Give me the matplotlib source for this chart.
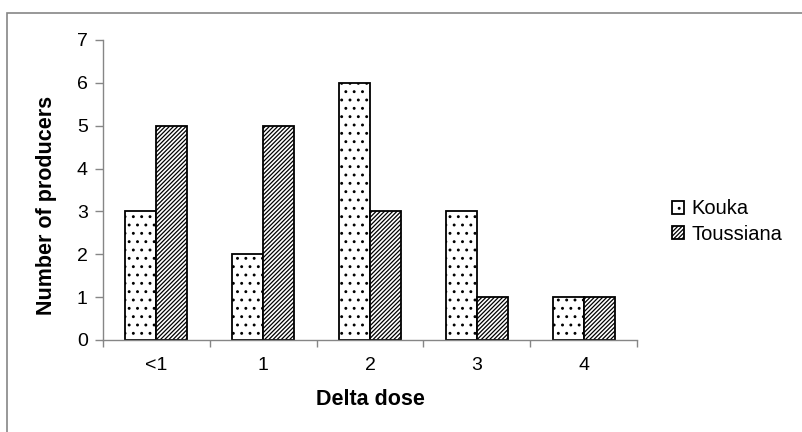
import matplotlib
matplotlib.use("Agg")
import matplotlib.pyplot as plt
from matplotlib.patches import Rectangle
import numpy as np

categories = ["<1", "1", "2", "3", "4"]
kouka = [3, 2, 6, 3, 1]
toussiana = [5, 5, 3, 1, 1]
series_names = ["Kouka", "Toussiana"]

plt.rcParams['font.family'] = ['Liberation Sans', 'DejaVu Sans']
plt.rcParams['hatch.linewidth'] = 0.9

fig = plt.figure(figsize=(8.02, 4.32), dpi=100)
ax = fig.add_axes([103/802, 1-340/432, (637-103)/802, 300/432])

x = np.arange(len(categories))
w = 0.29
b1 = ax.bar(x - w/2, kouka, w, facecolor='white', edgecolor='black', linewidth=1.3, hatch='..', label=series_names[0])
b2 = ax.bar(x + w/2, toussiana, w, facecolor='white', edgecolor='black', linewidth=1.3, hatch='////////', label=series_names[1])

ax.set_xlim(-0.5, len(categories) - 0.5)
ax.set_ylim(0, 7)
ax.set_yticks(range(0, 8))
ax.set_xticks(x)
ax.set_xticklabels(categories)
ax.set_xticks(np.arange(-0.5, len(categories)), minor=True)
ax.tick_params(axis='x', which='major', length=0, pad=12, labelsize=14)
ax.tick_params(axis='x', which='minor', length=5, color='#868686', width=1)
ax.tick_params(axis='y', length=6, color='#868686', width=1, labelsize=14, pad=5)

for s in ['top', 'right']:
    ax.spines[s].set_visible(False)
for s in ['left', 'bottom']:
    ax.spines[s].set_color('#868686')
    ax.spines[s].set_linewidth(1)

ax.set_xlabel("Delta dose", fontsize=15.5, fontweight='bold', labelpad=11)
ax.set_ylabel("Number of producers", fontsize=15.5, fontweight='bold')
ax.yaxis.set_label_coords(-0.086, 0.45)

fig.legend(handles=[b1, b2], labels=series_names, loc='center left',
           bbox_to_anchor=(672/802, 1-221.5/432), frameon=False, fontsize=14.5,
           handlelength=0.6, handleheight=0.6, handletextpad=0.35, labelspacing=0.3,
           borderaxespad=0, borderpad=0)

fig.add_artist(Rectangle((7/802, -0.1), 1.0, (432-13)/432 + 0.1, transform=fig.transFigure,
                         fill=False, edgecolor='#868686', linewidth=1.2))

fig.savefig("out.png", dpi=100)
